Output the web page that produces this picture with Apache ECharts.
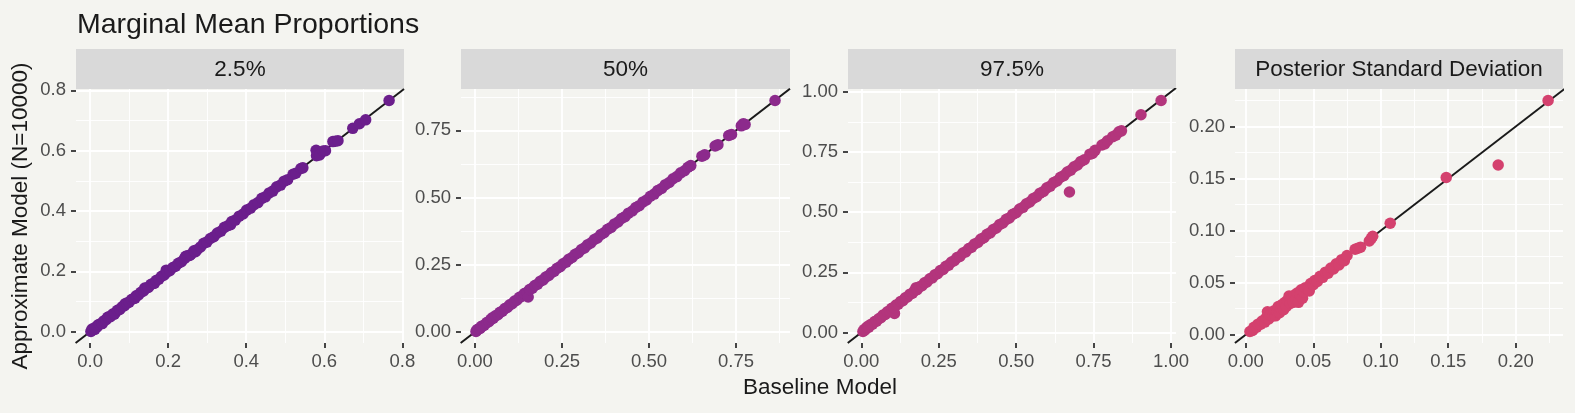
<!DOCTYPE html>
<html>
<head>
<meta charset="utf-8">
<title>Marginal Mean Proportions</title>
<script src="https://cdn.jsdelivr.net/npm/echarts@6/dist/echarts.min.js"></script>
<style>
  html, body { margin: 0; padding: 0; background: #f4f4f0; }
  #chart { width: 1575px; height: 413px; }
</style>
</head>
<body>
<div id="chart"></div>
<script>
// baseline model (x) vs approximate model (y), one pair of arrays per facet
const lowerBaseline = [0.002, 0.005, 0.008, 0.012, 0.013, 0.018, 0.020, 0.024, 0.030, 0.031, 0.035, 0.041, 0.045, 0.047, 0.052, 0.058, 0.062, 0.064, 0.070, 0.076, 0.082, 0.088, 0.090, 0.094, 0.100, 0.106, 0.112, 0.115, 0.118, 0.124, 0.130, 0.137, 0.140, 0.143, 0.149, 0.156, 0.162, 0.165, 0.169, 0.176, 0.183, 0.190, 0.195, 0.197, 0.204, 0.212, 0.219, 0.226, 0.234, 0.242, 0.245, 0.250, 0.255, 0.258, 0.266, 0.270, 0.274, 0.283, 0.291, 0.299, 0.308, 0.317, 0.326, 0.335, 0.344, 0.354, 0.360, 0.363, 0.372, 0.382, 0.392, 0.401, 0.411, 0.420, 0.430, 0.440, 0.449, 0.459, 0.468, 0.478, 0.488, 0.497, 0.506, 0.520, 0.527, 0.540, 0.545, 0.579, 0.580, 0.588, 0.597, 0.603, 0.622, 0.628, 0.635, 0.673, 0.690, 0.706, 0.766];
const lowerApprox   = [0.001, 0.009, 0.007, 0.008, 0.014, 0.016, 0.022, 0.025, 0.028, 0.027, 0.036, 0.040, 0.048, 0.049, 0.050, 0.059, 0.058, 0.062, 0.071, 0.074, 0.083, 0.086, 0.093, 0.095, 0.098, 0.107, 0.110, 0.111, 0.119, 0.122, 0.131, 0.135, 0.145, 0.144, 0.147, 0.157, 0.160, 0.161, 0.170, 0.174, 0.184, 0.188, 0.204, 0.198, 0.202, 0.213, 0.217, 0.227, 0.232, 0.243, 0.250, 0.252, 0.253, 0.256, 0.268, 0.265, 0.272, 0.281, 0.293, 0.297, 0.309, 0.315, 0.327, 0.333, 0.346, 0.352, 0.355, 0.365, 0.370, 0.383, 0.390, 0.403, 0.409, 0.421, 0.428, 0.442, 0.447, 0.460, 0.466, 0.480, 0.486, 0.499, 0.504, 0.522, 0.525, 0.541, 0.543, 0.601, 0.583, 0.586, 0.599, 0.600, 0.630, 0.631, 0.633, 0.674, 0.689, 0.702, 0.766];

const medianBaseline = [0.003, 0.006, 0.009, 0.015, 0.018, 0.021, 0.027, 0.034, 0.040, 0.046, 0.050, 0.053, 0.059, 0.066, 0.072, 0.079, 0.086, 0.093, 0.100, 0.107, 0.114, 0.121, 0.128, 0.135, 0.142, 0.150, 0.153, 0.157, 0.165, 0.172, 0.180, 0.188, 0.196, 0.204, 0.212, 0.220, 0.228, 0.236, 0.245, 0.253, 0.262, 0.270, 0.279, 0.288, 0.297, 0.306, 0.315, 0.324, 0.333, 0.343, 0.352, 0.362, 0.371, 0.381, 0.391, 0.401, 0.411, 0.421, 0.431, 0.441, 0.452, 0.462, 0.472, 0.483, 0.493, 0.504, 0.515, 0.525, 0.536, 0.547, 0.558, 0.569, 0.580, 0.591, 0.602, 0.612, 0.620, 0.652, 0.660, 0.690, 0.698, 0.729, 0.737, 0.765, 0.771, 0.776, 0.862];
const medianApprox   = [0.002, 0.008, 0.010, 0.013, 0.020, 0.022, 0.025, 0.035, 0.038, 0.047, 0.053, 0.051, 0.060, 0.064, 0.073, 0.077, 0.087, 0.091, 0.101, 0.105, 0.115, 0.119, 0.129, 0.133, 0.143, 0.148, 0.130, 0.158, 0.163, 0.173, 0.178, 0.189, 0.194, 0.205, 0.210, 0.221, 0.226, 0.237, 0.243, 0.254, 0.260, 0.271, 0.277, 0.289, 0.295, 0.307, 0.313, 0.325, 0.331, 0.344, 0.350, 0.363, 0.369, 0.382, 0.389, 0.402, 0.409, 0.422, 0.429, 0.442, 0.450, 0.463, 0.470, 0.484, 0.491, 0.505, 0.513, 0.526, 0.534, 0.548, 0.556, 0.570, 0.578, 0.592, 0.600, 0.613, 0.619, 0.654, 0.659, 0.692, 0.697, 0.731, 0.735, 0.767, 0.775, 0.772, 0.861];

const upperBaseline = [0.005, 0.009, 0.012, 0.018, 0.022, 0.024, 0.030, 0.036, 0.043, 0.049, 0.056, 0.063, 0.070, 0.077, 0.084, 0.091, 0.098, 0.107, 0.105, 0.112, 0.119, 0.127, 0.134, 0.142, 0.149, 0.157, 0.165, 0.172, 0.177, 0.180, 0.188, 0.196, 0.204, 0.212, 0.221, 0.229, 0.238, 0.246, 0.255, 0.264, 0.273, 0.282, 0.291, 0.300, 0.309, 0.318, 0.328, 0.337, 0.347, 0.356, 0.366, 0.376, 0.386, 0.396, 0.406, 0.416, 0.426, 0.436, 0.447, 0.457, 0.468, 0.478, 0.489, 0.500, 0.511, 0.522, 0.533, 0.544, 0.555, 0.566, 0.577, 0.588, 0.599, 0.610, 0.621, 0.632, 0.643, 0.654, 0.665, 0.672, 0.676, 0.687, 0.698, 0.709, 0.720, 0.738, 0.746, 0.755, 0.777, 0.786, 0.795, 0.812, 0.822, 0.832, 0.840, 0.903, 0.968];
const upperApprox   = [0.004, 0.012, 0.010, 0.021, 0.026, 0.022, 0.033, 0.034, 0.045, 0.047, 0.057, 0.061, 0.072, 0.075, 0.086, 0.089, 0.100, 0.079, 0.103, 0.114, 0.117, 0.129, 0.132, 0.144, 0.147, 0.159, 0.163, 0.174, 0.186, 0.178, 0.190, 0.194, 0.206, 0.210, 0.223, 0.227, 0.240, 0.244, 0.257, 0.262, 0.275, 0.280, 0.293, 0.298, 0.311, 0.316, 0.330, 0.335, 0.349, 0.354, 0.368, 0.374, 0.388, 0.394, 0.408, 0.414, 0.428, 0.434, 0.449, 0.455, 0.470, 0.476, 0.491, 0.498, 0.513, 0.520, 0.535, 0.542, 0.557, 0.564, 0.579, 0.586, 0.601, 0.608, 0.623, 0.630, 0.645, 0.652, 0.667, 0.584, 0.674, 0.689, 0.696, 0.711, 0.718, 0.741, 0.744, 0.757, 0.779, 0.784, 0.797, 0.814, 0.820, 0.834, 0.838, 0.905, 0.964];

const sdBaseline = [0.003, 0.005, 0.006, 0.008, 0.009, 0.011, 0.012, 0.014, 0.015, 0.016, 0.017, 0.018, 0.020, 0.021, 0.022, 0.023, 0.024, 0.025, 0.026, 0.027, 0.028, 0.029, 0.030, 0.031, 0.032, 0.033, 0.034, 0.035, 0.036, 0.037, 0.038, 0.039, 0.040, 0.041, 0.042, 0.043, 0.044, 0.046, 0.047, 0.048, 0.050, 0.051, 0.053, 0.055, 0.057, 0.059, 0.061, 0.063, 0.065, 0.067, 0.069, 0.071, 0.073, 0.075, 0.081, 0.083, 0.085, 0.0915, 0.093, 0.094, 0.107, 0.1485, 0.187, 0.224];
const sdApprox   = [0.003, 0.004, 0.007, 0.007, 0.010, 0.010, 0.013, 0.012, 0.016, 0.022, 0.015, 0.019, 0.018, 0.023, 0.018, 0.022, 0.027, 0.021, 0.025, 0.029, 0.024, 0.031, 0.027, 0.033, 0.037, 0.030, 0.035, 0.031, 0.038, 0.034, 0.040, 0.031, 0.039, 0.043, 0.035, 0.041, 0.045, 0.044, 0.042, 0.049, 0.048, 0.052, 0.051, 0.056, 0.055, 0.060, 0.059, 0.064, 0.063, 0.068, 0.067, 0.072, 0.071, 0.076, 0.082, 0.083, 0.084, 0.090, 0.0925, 0.0945, 0.107, 0.151, 0.163, 0.225];

// axis tick values
const lowerTicks = [0, 0.2, 0.4, 0.6, 0.8];
const medianTicks = [0, 0.25, 0.5, 0.75];
const upperTicks = [0, 0.25, 0.5, 0.75, 1];
const sdTicks = [0, 0.05, 0.1, 0.15, 0.2];

const panelTitles = ['2.5%', '50%', '97.5%', 'Posterior Standard Deviation'];

const font = '"Liberation Sans", Arial, Helvetica, sans-serif';

const panels = [
  { name: panelTitles[0], color: '#6b1e8c', x: lowerBaseline, y: lowerApprox, ticks: lowerTicks, digits: 1, left: 76, width: 328 },
  { name: panelTitles[1], color: '#8c2a8c', x: medianBaseline, y: medianApprox, ticks: medianTicks, digits: 2, left: 461, width: 329 },
  { name: panelTitles[2], color: '#b3357c', x: upperBaseline, y: upperApprox, ticks: upperTicks, digits: 2, left: 848, width: 328 },
  { name: panelTitles[3], color: '#d4416e', x: sdBaseline, y: sdApprox, ticks: sdTicks, digits: 2, left: 1235, width: 328 }
];

const panelTop = 89;
const panelHeight = 254;
const stripHeight = 40;

// ggplot-style 5% expansion
function expand(vals) {
  const lo = Math.min(...vals), hi = Math.max(...vals);
  const pad = (hi - lo) * 0.05;
  return [lo - pad, hi + pad];
}

function minorsOf(ticks, range) {
  const step = ticks[1] - ticks[0];
  const out = [];
  for (let k = -1; k < ticks.length; k++) {
    const v = ticks[0] + step * (k + 0.5);
    if (v >= range[0] && v <= range[1]) out.push(+v.toFixed(6));
  }
  return out;
}

const grids = [];
const xMajor = [], yMajor = [], xMinor = [], yMinor = [];
const series = [];
const graphics = [];

panels.forEach((p, i) => {
  const xr = expand(p.x);
  const yr = expand(p.y);
  grids.push({ left: p.left, top: panelTop, width: p.width, height: panelHeight, outerBoundsMode: 'none', containLabel: false });

  const labelFmt = v => Number(v).toFixed(p.digits);
  const tickStyle = { show: true, length: 5, lineStyle: { color: '#333333', width: 1.8 }, customValues: p.ticks };
  const labelStyle = { show: true, customValues: p.ticks, formatter: labelFmt, color: '#4d4d4d', fontSize: 18.5, fontFamily: font };

  xMajor.push({
    type: 'value', gridIndex: i, min: xr[0], max: xr[1], position: 'bottom',
    axisLine: { show: false, onZero: false },
    axisTick: tickStyle,
    axisLabel: Object.assign({ margin: 9 }, labelStyle),
    splitLine: { show: true, lineStyle: { color: '#ffffff', width: 1.8 } }
  });
  yMajor.push({
    type: 'value', gridIndex: i, min: yr[0], max: yr[1], position: 'left',
    axisLine: { show: false, onZero: false },
    axisTick: tickStyle,
    axisLabel: Object.assign({ margin: 10 }, labelStyle),
    splitLine: { show: true, lineStyle: { color: '#ffffff', width: 1.8 } }
  });
  const xm = minorsOf(p.ticks, xr), ym = minorsOf(p.ticks, yr);
  xMinor.push({
    type: 'value', gridIndex: i, min: xr[0], max: xr[1], position: 'bottom',
    axisLine: { show: false, onZero: false },
    axisTick: { show: false, customValues: xm },
    axisLabel: { show: false, customValues: xm },
    splitLine: { show: true, lineStyle: { color: '#ffffff', width: 0.9 } }
  });
  yMinor.push({
    type: 'value', gridIndex: i, min: yr[0], max: yr[1], position: 'left',
    axisLine: { show: false, onZero: false },
    axisTick: { show: false, customValues: ym },
    axisLabel: { show: false, customValues: ym },
    splitLine: { show: true, lineStyle: { color: '#ffffff', width: 0.9 } }
  });

  // identity line y = x across the panel
  const lo = Math.min(xr[0], yr[0]), hi = Math.max(xr[1], yr[1]);
  series.push({
    type: 'line', xAxisIndex: i, yAxisIndex: i, clip: true, symbol: 'none', silent: true,
    data: [[lo, lo], [hi, hi]],
    lineStyle: { color: '#1a1a1a', width: 2 }, z: 2
  });
  series.push({
    type: 'scatter', xAxisIndex: i, yAxisIndex: i, symbolSize: 11.5, clip: false,
    data: p.x.map((v, k) => [v, p.y[k]]),
    itemStyle: { color: p.color, opacity: 1 }, z: 3
  });

  // facet strip
  graphics.push({
    type: 'rect', left: p.left, top: panelTop - stripHeight, silent: true,
    shape: { width: p.width, height: stripHeight },
    style: { fill: '#d9d9d9' }
  });
  graphics.push({
    type: 'text', x: p.left + p.width / 2, y: panelTop - stripHeight / 2 + 1, silent: true,
    style: { text: p.name, fill: '#1a1a1a', font: '22.5px ' + font, textAlign: 'center', textVerticalAlign: 'middle' }
  });
});

graphics.push({
  type: 'text', x: 820, y: 388, silent: true,
  style: { text: 'Baseline Model', fill: '#1a1a1a', font: '22.5px ' + font, textAlign: 'center', textVerticalAlign: 'middle' }
});
graphics.push({
  type: 'text', x: 21, y: 216, rotation: Math.PI / 2, silent: true,
  style: { text: 'Approximate Model (N=10000)', fill: '#1a1a1a', font: '22.5px ' + font, textAlign: 'center', textVerticalAlign: 'middle' }
});

const chart = echarts.init(document.getElementById('chart'), null, { renderer: 'canvas' });
chart.setOption({
  backgroundColor: '#f4f4f0',
  animation: false,
  title: {
    text: 'Marginal Mean Proportions', left: 72, top: 6,
    textStyle: { color: '#1a1a1a', fontSize: 28.5, fontWeight: 'normal', fontFamily: font }
  },
  grid: grids,
  xAxis: xMajor.concat(xMinor),
  yAxis: yMajor.concat(yMinor),
  series: series,
  graphic: graphics
});
</script>
</body>
</html>
